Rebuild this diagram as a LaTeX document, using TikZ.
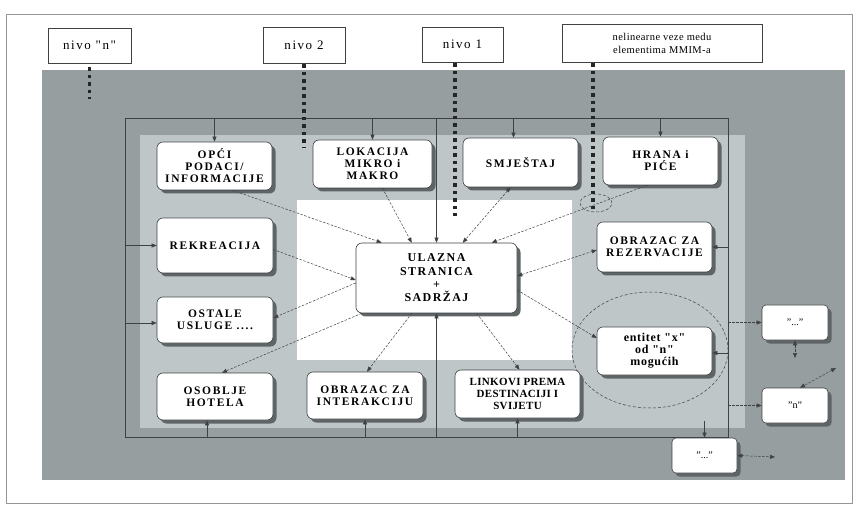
\documentclass[tikz,border=0pt]{standalone}
\usepackage{fontspec}
\setmainfont{Liberation Serif}
\newfontfamily\boxfont[LetterSpace=14]{Liberation Serif}
\newfontfamily\bigfont[LetterSpace=12]{Liberation Serif}
\newfontfamily\tightfont[LetterSpace=3]{Liberation Serif}
\newfontfamily\entfont[LetterSpace=6]{Liberation Serif}
\newfontfamily\lblfont[LetterSpace=12]{Liberation Serif}
\newfontfamily\nelfont[LetterSpace=4]{Liberation Serif}
\newcommand{\dq}{\symbol{34}}
\usetikzlibrary{arrows.meta,shadows}
\definecolor{darkbg}{RGB}{150,158,160}
\definecolor{lightbg}{RGB}{190,198,200}
\definecolor{shadowc}{RGB}{95,101,103}
\definecolor{linec}{RGB}{62,66,68}
\definecolor{framec}{RGB}{150,150,150}
\begin{document}
\begin{tikzpicture}[x=1pt,y=-1pt,
  card/.style={draw=linec, fill=white, rounded corners=6pt, line width=0.6pt,
    drop shadow={shadow xshift=3.5pt, shadow yshift=-3.5pt, fill=shadowc, opacity=1},
    font=\boxfont\bfseries\fontsize{11.5}{12}\selectfont, align=center, inner sep=2pt},
  bigcard/.style={card, font=\bigfont\bfseries\fontsize{12}{13.3}\selectfont},
  linkcard/.style={card, font=\tightfont\bfseries\fontsize{11}{11.7}\selectfont},
  entcard/.style={card, font=\entfont\bfseries\fontsize{12}{12}\selectfont},
  smallcard/.style={card, rounded corners=4pt, font=\fontsize{10}{12}\selectfont},
  lblbox/.style={draw=linec, fill=white, line width=0.7pt,
    drop shadow={shadow xshift=1.2pt, shadow yshift=-1.2pt, fill=shadowc, opacity=1},
    font=\lblfont\fontsize{13}{14}\selectfont, align=center, inner sep=2pt},
  nelbox/.style={lblbox, font=\nelfont\fontsize{10.5}{13}\selectfont},
  busline/.style={draw=linec, line width=0.5pt},
  conn/.style={draw=linec, line width=0.5pt, -{Triangle[length=5pt,width=4pt]}},
  dconn/.style={conn, dash pattern=on 2.5pt off 1.5pt},
  ddconn/.style={dconn, {Triangle[length=5pt,width=4pt]}-{Triangle[length=5pt,width=4pt]}},
  dotline/.style={draw=black!85, line width=3.5pt, dash pattern=on 3.5pt off 4pt},
  ringline/.style={draw=linec, line width=0.5pt, dash pattern=on 3pt off 2pt}
]
\useasboundingbox (0,0) rectangle (856,510);
\fill[white] (0,0) rectangle (856,510);
% outer frame and backgrounds
\draw[framec, line width=0.8pt] (6,14) rectangle (852,503);
\fill[darkbg] (42,70) rectangle (845,480);
\fill[lightbg] (140,135) rectangle (745,428);
\fill[white] (297,200) rectangle (572,360);

% bus frame coordinates
\coordinate (bTL) at (125,118);
\coordinate (bBR) at (728,437);

% level labels
\node[lblbox, minimum width=83pt, minimum height=35pt] (nivon) at (89.5,45.5) {nivo \dq n\dq};
\node[lblbox, minimum width=82pt, minimum height=36pt] (nivo2) at (304,45) {nivo 2};
\node[lblbox, minimum width=81pt, minimum height=35pt] (nivo1) at (462.5,44.5) {nivo 1};
\node[nelbox, minimum width=200pt, minimum height=38pt] (nelin) at (662,43) {nelinearne veze medu\\elementima MMIM-a};

% ellipses
\draw[ringline] (650,350) ellipse [x radius=78pt, y radius=58pt];
\draw[ringline] (596,203) ellipse [x radius=16pt, y radius=9pt];

% bus lines
\draw[busline] (bTL) rectangle (bBR);

% main boxes
\node[card, minimum width=115pt, minimum height=48pt] (opci) at (214.5,166) {OPĆI\\PODACI/\\INFORMACIJE};
\node[card, minimum width=119pt, minimum height=48pt] (lok) at (372.5,164) {LOKACIJA\\MIKRO i\\MAKRO};
\node[card, minimum width=115pt, minimum height=49pt] (smj) at (520.5,162.5) {SMJEŠTAJ};
\node[card, minimum width=115pt, minimum height=48pt] (hrana) at (660.5,161) {HRANA i\\PIĆE};
\node[card, minimum width=116pt, minimum height=55pt] (rekr) at (215,245.5) {REKREACIJA};
\node[card, minimum width=116pt, minimum height=46pt] (ostale) at (215,320) {OSTALE\\USLUGE ....};
\node[card, minimum width=116pt, minimum height=47pt] (osob) at (215,396.5) {OSOBLJE\\HOTELA};
\node[card, minimum width=116pt, minimum height=47pt] (inter) at (365,395.5) {OBRAZAC ZA\\INTERAKCIJU};
\node[linkcard, minimum width=125pt, minimum height=48pt] (linkovi) at (517.5,394) {LINKOVI PREMA\\DESTINACIJI I\\SVIJETU};
\node[card, minimum width=115pt, minimum height=50pt] (rez) at (654.5,247) {OBRAZAC ZA\\REZERVACIJE};
\node[entcard, minimum width=115pt, minimum height=48pt] (ent) at (654.5,351) {entitet \dq x\dq\\od \dq n\dq\\mogućih};
\node[bigcard, minimum width=161pt, minimum height=70pt] (ulazna) at (436.5,278) {ULAZNA\\STRANICA\\+\\SADRŽAJ};
\node[smallcard, minimum width=66pt, minimum height=35pt] (dotsa) at (795,322.5) {\dq...\dq};
\node[smallcard, minimum width=66pt, minimum height=35pt] (nbox) at (795,405.5) {\dq n\dq};
\node[smallcard, minimum width=65pt, minimum height=35pt] (dotsb) at (704.5,455.5) {\dq...\dq};

% dotted level lines
\coordinate (dn) at (89.5,99);
\coordinate (d2) at (304,147);
\coordinate (d1) at (455,216);
\coordinate (dl) at (593,209);
\draw[dotline] ([yshift=-4pt]nivon.south) -- (dn);
\draw[dotline] ([yshift=-1pt]nivo2.south) -- (d2);
\draw[dotline] ([xshift=-7.5pt,yshift=-1pt]nivo1.south) -- (d1);
\draw[dotline] ([xshift=-69pt,yshift=-1pt]nelin.south) -- (dl);

% bus arrows
\draw[conn] (opci.north |- bTL) -- (opci.north);
\draw[conn] (lok.north |- bTL) -- (lok.north);
\draw[conn] ([xshift=-7pt]smj.north |- bTL) -- ([xshift=-7pt]smj.north);
\draw[conn] (hrana.north |- bTL) -- (hrana.north);
\draw[conn] (ulazna.north |- bTL) -- (ulazna.north);
\draw[conn] (ulazna.south |- bBR) -- (ulazna.south);
\draw[conn] (rekr.west -| bTL) -- (rekr.west);
\draw[conn] ([yshift=-3pt]ostale.west -| bTL) -- ([yshift=-3pt]ostale.west);
\draw[conn] ([xshift=-8pt]osob.south |- bBR) -- ([xshift=-8pt]osob.south);
\draw[conn] (inter.south |- bBR) -- (inter.south);
\draw[conn] (linkovi.south |- bBR) -- (linkovi.south);
\draw[conn] (rez.east -| bBR) -- (rez.east);
\draw[conn] ([yshift=-2pt]ent.east -| bBR) -- ([yshift=-2pt]ent.east);

% dashed links around the entry page
\draw[dconn] ([xshift=18pt]opci.south) -- ([xshift=26pt]ulazna.north west);
\draw[dconn] ([xshift=10pt]lok.south) -- ([xshift=56pt]ulazna.north west);
\draw[ddconn] ([xshift=-10pt]smj.south) -- ([xshift=107pt]ulazna.north west);
\draw[dconn] ([xshift=-13pt]hrana.south) -- ([xshift=136pt]ulazna.north west);
\draw[dconn] ([yshift=-4pt]rekr.east) -- ([yshift=-2pt]ulazna.west);
\draw[dconn] ([yshift=-5pt]ulazna.west) -- ([yshift=2pt]ostale.east);
\draw[dconn] ([xshift=6pt]ulazna.south west) -- ([xshift=7pt]osob.north);
\draw[dconn] ([xshift=56pt]ulazna.south west) -- ([xshift=2pt]inter.north);
\draw[dconn] ([xshift=121pt]ulazna.south west) -- ([xshift=2pt]linkovi.north);
\draw[ddconn] ([yshift=2pt]ulazna.east) -- ([yshift=-3pt]rez.west);
\draw[dconn] ([yshift=-12pt]ulazna.east) -- ([yshift=13pt]ent.west);

% right-hand small boxes
\coordinate (aa) at (795,358);
\coordinate (ab) at (836,368);
\coordinate (ac) at (704.5,421);
\coordinate (ad) at (775,457);
\draw[dconn] (dotsa.west -| bBR) -- (dotsa.west);
\draw[ddconn] (dotsa.south) -- (aa);
\draw[ddconn] (ab) -- ([xshift=5pt]nbox.north);
\draw[dconn] (nbox.west -| bBR) -- (nbox.west);
\draw[conn] (ac) -- (dotsb.north);
\draw[ddconn] (dotsb.east) -- (ad);
\end{tikzpicture}
\end{document}
